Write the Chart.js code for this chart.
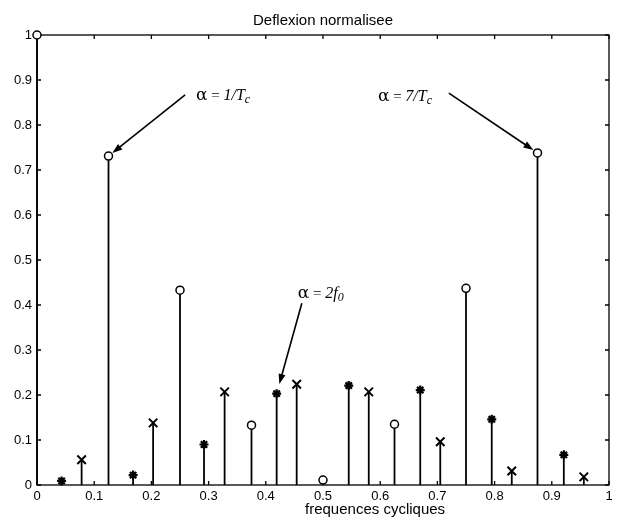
<!DOCTYPE html>
<html>
<head>
<meta charset="utf-8">
<script src="https://cdn.jsdelivr.net/npm/chart.js@4/dist/chart.umd.min.js"></script>
<style>
  html, body { margin: 0; padding: 0; background: #fff; }
  canvas { display: block; }
</style>
</head>
<body>
<canvas id="c" width="624" height="522"></canvas>
<script>
// ---- data ----
const circleFreq = [0, 0.125, 0.25, 0.375, 0.5, 0.625, 0.75, 0.875];
const circleVals = [1.0, 0.731, 0.433, 0.133, 0.011, 0.135, 0.437, 0.738];
const starFreq   = [0.043, 0.168, 0.292, 0.419, 0.545, 0.670, 0.795, 0.921];
const starVals   = [0.009, 0.022, 0.090, 0.203, 0.221, 0.211, 0.146, 0.067];
const crossFreq  = [0.078, 0.203, 0.328, 0.454, 0.580, 0.705, 0.830, 0.956];
const crossVals  = [0.056, 0.138, 0.207, 0.224, 0.207, 0.096, 0.031, 0.018];
const xTickLabels = ['0','0.1','0.2','0.3','0.4','0.5','0.6','0.7','0.8','0.9','1'];
const yTickLabels = ['0','0.1','0.2','0.3','0.4','0.5','0.6','0.7','0.8','0.9','1'];
const chartTitle = 'Deflexion normalisee';
const xTitle = 'frequences cycliques';

const pts = (xs, ys) => xs.map((x, i) => ({ x: x, y: ys[i] }));
const SANS = '"Liberation Sans", Arial, sans-serif';

// annotations (anchored in data units, converted by the chart's scales)
const annotations = [
  { parts: [['α', '17px "DejaVu Serif"'], [' = ', '15px "Liberation Serif"'], ['1/T', 'italic 16px "Liberation Serif"'], ['c', 'italic 12px "Liberation Serif"', 3]],
    tx: 0.278, ty: 0.856, fx: 0.259, fy: 0.867, ds: 0, idx: 1, gap: 5 },
  { parts: [['α', '17px "DejaVu Serif"'], [' = ', '15px "Liberation Serif"'], ['7/T', 'italic 16px "Liberation Serif"'], ['c', 'italic 12px "Liberation Serif"', 3]],
    tx: 0.596, ty: 0.853, fx: 0.720, fy: 0.871, ds: 0, idx: 7, gap: 5 },
  { parts: [['α', '17px "DejaVu Serif"'], [' = ', '15px "Liberation Serif"'], ['2', 'italic 16px "Liberation Serif"'], ['f', 'italic 16px "Liberation Serif"'], ['0', 'italic 12px "Liberation Serif"', 3]],
    tx: 0.456, ty: 0.416, fx: 0.463, fy: 0.404, ds: 1, idx: 3, gap: 10 }
];

const stemPlugin = {
  id: 'stems',
  beforeDatasetsDraw(chart) {
    const ctx = chart.ctx;
    const y0 = chart.scales.y.getPixelForValue(0);
    ctx.save();
    ctx.strokeStyle = '#000';
    ctx.lineWidth = 1.8;
    chart.data.datasets.forEach((ds, i) => {
      const meta = chart.getDatasetMeta(i);
      meta.data.forEach(p => {
        ctx.beginPath();
        ctx.moveTo(p.x, y0);
        ctx.lineTo(p.x, p.y);
        ctx.stroke();
      });
    });
    ctx.restore();
  }
};

const framePlugin = {
  id: 'frame',
  beforeDatasetsDraw(chart) {
    const ctx = chart.ctx;
    const a = chart.chartArea;
    const xs = chart.scales.x, ys = chart.scales.y;
    const L = 4;
    ctx.save();
    ctx.strokeStyle = '#000';
    ctx.lineWidth = 1.3;
    ctx.strokeRect(a.left, a.top, a.right - a.left, a.bottom - a.top);
    ctx.beginPath();
    xs.ticks.forEach(t => {
      const px = xs.getPixelForValue(t.value);
      ctx.moveTo(px, a.bottom); ctx.lineTo(px, a.bottom - L);
      ctx.moveTo(px, a.top); ctx.lineTo(px, a.top + L);
    });
    ys.ticks.forEach(t => {
      const py = ys.getPixelForValue(t.value);
      ctx.moveTo(a.left, py); ctx.lineTo(a.left + L, py);
      ctx.moveTo(a.right, py); ctx.lineTo(a.right - L, py);
    });
    ctx.stroke();
    ctx.fillStyle = '#000';
    ctx.font = '15px ' + SANS;
    ctx.textBaseline = 'alphabetic';
    ctx.textAlign = 'center';
    // title centred over the plot box
    ctx.fillText(chartTitle, (a.left + a.right) / 2, 25);
    // x-axis label (placed as in the reference, right of centre)
    ctx.fillText(xTitle, xs.getPixelForValue(0.591), 514);
    ctx.restore();
  }
};

const annotPlugin = {
  id: 'annot',
  afterDatasetsDraw(chart) {
    const ctx = chart.ctx;
    const xs = chart.scales.x, ys = chart.scales.y;
    ctx.save();
    ctx.fillStyle = '#000';
    ctx.strokeStyle = '#000';
    annotations.forEach(an => {
      let x = xs.getPixelForValue(an.tx);
      const y = ys.getPixelForValue(an.ty);
      ctx.textBaseline = 'alphabetic';
      ctx.textAlign = 'left';
      an.parts.forEach(p => {
        ctx.font = p[1];
        ctx.fillText(p[0], x, y + (p[2] || 0));
        x += ctx.measureText(p[0]).width;
      });
      const el = chart.getDatasetMeta(an.ds).data[an.idx];
      const sx = xs.getPixelForValue(an.fx), sy = ys.getPixelForValue(an.fy);
      const dx = sx - el.x, dy = sy - el.y;
      const len = Math.hypot(dx, dy);
      const ux = dx / len, uy = dy / len;
      const ex = el.x + ux * an.gap, ey = el.y + uy * an.gap;
      ctx.lineWidth = 1.6;
      ctx.beginPath();
      ctx.moveTo(sx, sy);
      ctx.lineTo(ex + ux * 6, ey + uy * 6);
      ctx.stroke();
      const hl = 10, hw = 3.5;
      const bx = ex + ux * hl, by = ey + uy * hl;
      ctx.beginPath();
      ctx.moveTo(ex, ey);
      ctx.lineTo(bx - uy * hw, by + ux * hw);
      ctx.lineTo(bx + uy * hw, by - ux * hw);
      ctx.closePath();
      ctx.fill();
    });
    ctx.restore();
  }
};

const tickFont = { family: SANS, size: 13 };

new Chart(document.getElementById('c'), {
  type: 'scatter',
  data: {
    datasets: [
      { label: 'o', data: pts(circleFreq, circleVals), pointStyle: 'circle', pointRadius: 4,
        borderColor: '#000', backgroundColor: '#fff', borderWidth: 1.5, clip: false },
      { label: '*', data: pts(starFreq, starVals), pointStyle: 'star', pointRadius: 4.5,
        borderColor: '#000', backgroundColor: '#000', borderWidth: 2.2, clip: false },
      { label: 'x', data: pts(crossFreq, crossVals), pointStyle: 'crossRot', pointRadius: 6,
        borderColor: '#000', backgroundColor: '#000', borderWidth: 2, clip: false }
    ]
  },
  options: {
    responsive: false,
    animation: false,
    events: [],
    layout: { padding: { left: 0, right: 15, top: 35, bottom: 0 } },
    plugins: {
      legend: { display: false },
      tooltip: { enabled: false },
      title: { display: false }
    },
    scales: {
      x: {
        type: 'linear', min: 0, max: 1,
        afterFit(s) { s.height = 37; },
        grid: { display: false, drawTicks: false },
        border: { display: false },
        ticks: { stepSize: 0.1, color: '#000', font: tickFont, padding: 4, maxRotation: 0,
          callback: (v, i) => xTickLabels[i] }
      },
      y: {
        type: 'linear', min: 0, max: 1,
        afterFit(s) { s.width = 37; },
        grid: { display: false, drawTicks: false },
        border: { display: false },
        ticks: { stepSize: 0.1, color: '#000', font: tickFont, padding: 5,
          callback: (v, i) => yTickLabels[i] }
      }
    }
  },
  plugins: [framePlugin, stemPlugin, annotPlugin]
});
</script>
</body>
</html>
